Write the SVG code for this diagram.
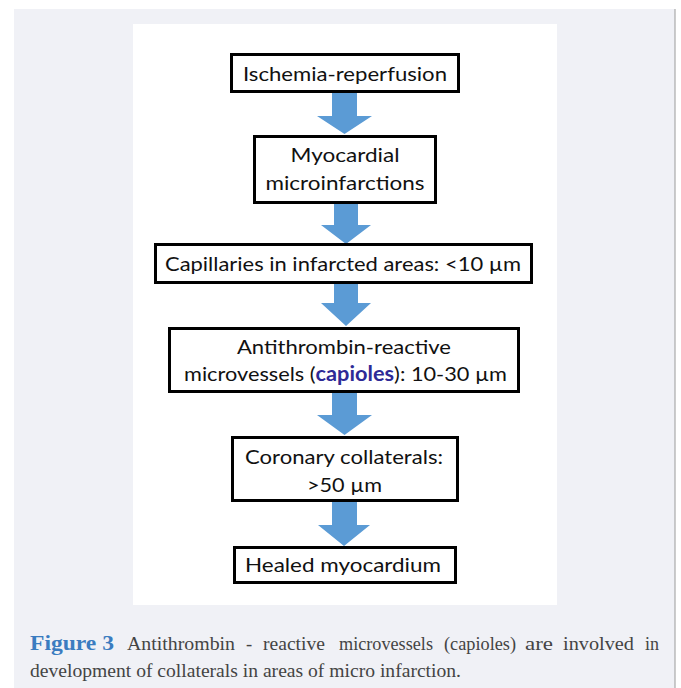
<svg xmlns="http://www.w3.org/2000/svg" width="681" height="688" viewBox="0 0 681 688">
  <style>
    .box { fill: #ffffff; stroke: #000000; stroke-width: 3; }
    .lbl { font-family: Lato, "Open Sans", "Liberation Sans", sans-serif; font-size: 20px; fill: #111111; text-anchor: middle; }
    .arrow { fill: #5b9bd5; }
    .cap { font-family: "Liberation Serif", "DejaVu Serif", serif; font-size: 18.5px; fill: #444444; }
    .fig { font-family: "Liberation Serif", "DejaVu Serif", serif; font-size: 20px; font-weight: bold; fill: #3a7cc0; }
  </style>
  <rect x="0" y="0" width="681" height="688" fill="#ffffff"/>
  <rect x="14" y="9" width="661" height="679" fill="#f0f1f6"/>
  <line x1="675" y1="9" x2="675" y2="688" stroke="#9a9a9a" stroke-width="1"/>
  <rect x="133" y="24" width="424" height="581" fill="#ffffff"/>

  <g id="connectors" class="arrow">
    <path d="M 332 93 L 357 93 L 357 116 L 372 116 L 344.5 134 L 317 116 L 332 116 Z"/>
    <path d="M 334 204 L 358 204 L 358 225 L 371 225 L 346 244 L 321 225 L 334 225 Z"/>
    <path d="M 334 284 L 358 284 L 358 303 L 371 303 L 346 326 L 321 303 L 334 303 Z"/>
    <path d="M 332 393 L 357 393 L 357 415 L 372 415 L 344.5 435 L 317 415 L 332 415 Z"/>
    <path d="M 332 502 L 357 502 L 357 525 L 370 525 L 344 546 L 318 525 L 332 525 Z"/>
  </g>

  <g id="node-ischemia">
    <rect class="box" x="231.5" y="54.5" width="227" height="37"/>
    <text class="lbl" x="345" y="81" textLength="204" lengthAdjust="spacingAndGlyphs">Ischemia-reperfusion</text>
  </g>
  <g id="node-microinfarctions">
    <rect class="box" x="254.5" y="136.5" width="181" height="66"/>
    <text class="lbl" x="345" y="162" textLength="109" lengthAdjust="spacingAndGlyphs">Myocardial</text>
    <text class="lbl" x="345" y="190" textLength="159" lengthAdjust="spacingAndGlyphs">microinfarctions</text>
  </g>
  <g id="node-capillaries">
    <rect class="box" x="155.5" y="244.5" width="376" height="38"/>
    <text class="lbl" x="343" y="271" textLength="356" lengthAdjust="spacingAndGlyphs">Capillaries in infarcted areas: &lt;10 µm</text>
  </g>
  <g id="node-capioles">
    <rect class="box" x="169.5" y="328.5" width="349" height="63"/>
    <text class="lbl" x="344" y="354" textLength="214" lengthAdjust="spacingAndGlyphs">Antithrombin-reactive</text>
    <text class="lbl" x="345.5" y="381" textLength="323" lengthAdjust="spacingAndGlyphs">microvessels (<tspan font-weight="bold" fill="#2e2a96">capioles</tspan>): 10-30 µm</text>
  </g>
  <g id="node-collaterals">
    <rect class="box" x="232.5" y="437.5" width="225" height="63"/>
    <text class="lbl" x="344" y="464" textLength="198" lengthAdjust="spacingAndGlyphs">Coronary collaterals:</text>
    <text class="lbl" x="344.5" y="492" textLength="75" lengthAdjust="spacingAndGlyphs">&gt;50 µm</text>
  </g>
  <g id="node-healed">
    <rect class="box" x="234.5" y="547.5" width="221" height="35"/>
    <text class="lbl" x="343" y="572" textLength="196" lengthAdjust="spacingAndGlyphs">Healed myocardium</text>
  </g>

  <g id="caption">
    <text class="fig" x="30" y="650" textLength="84" lengthAdjust="spacingAndGlyphs">Figure 3</text>
    <text class="cap" x="127" y="650" textLength="108" lengthAdjust="spacingAndGlyphs">Antithrombin</text>
    <text class="cap" x="246" y="650">-</text>
    <text class="cap" x="263" y="650" textLength="62" lengthAdjust="spacingAndGlyphs">reactive</text>
    <text class="cap" x="339" y="650" textLength="94" lengthAdjust="spacingAndGlyphs">microvessels</text>
    <text class="cap" x="444" y="650" textLength="72" lengthAdjust="spacingAndGlyphs">(capioles)</text>
    <text class="cap" x="525" y="650" textLength="28" lengthAdjust="spacingAndGlyphs">are</text>
    <text class="cap" x="563" y="650" textLength="71" lengthAdjust="spacingAndGlyphs">involved</text>
    <text class="cap" x="645" y="650" textLength="14" lengthAdjust="spacingAndGlyphs">in</text>
    <text class="cap" x="30" y="677" textLength="431" lengthAdjust="spacingAndGlyphs">development of collaterals in areas of micro infarction.</text>
  </g>
</svg>
